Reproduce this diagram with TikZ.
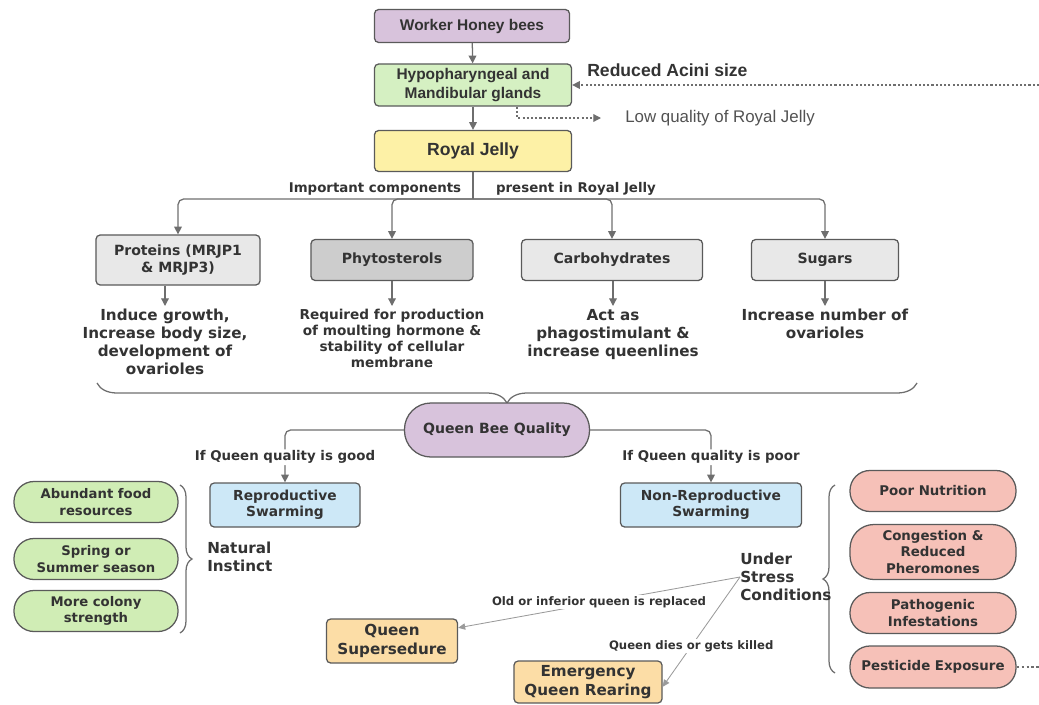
\documentclass[tikz,border=0pt]{standalone}
\usepackage{fontspec}
\setmainfont{DejaVu Sans}
\newfontfamily\arialfont{Liberation Sans}
\usepackage{tikz}
\usetikzlibrary{arrows.meta,decorations.pathreplacing}
\definecolor{boxline}{HTML}{5A5A5A}
\definecolor{linegray}{HTML}{6E6E6E}
\definecolor{thingray}{HTML}{9A9A9A}
\definecolor{txt}{HTML}{333333}
\definecolor{purplefill}{HTML}{D8C3DC}
\definecolor{glandfill}{HTML}{D5F0C2}
\definecolor{jellyfill}{HTML}{FDF1A6}
\definecolor{compfill}{HTML}{E8E8E8}
\definecolor{sterolfill}{HTML}{CDCDCD}
\definecolor{swarmfill}{HTML}{CDE8F7}
\definecolor{naturefill}{HTML}{D0EDB5}
\definecolor{stressfill}{HTML}{F6C1B8}
\definecolor{queenfill}{HTML}{FCDDA6}

\begin{document}
\begin{tikzpicture}[x=0.025cm,y=-0.025cm,
	box/.style={draw=boxline,line width=0.9pt,rounded corners=3pt,align=center,text=txt,inner sep=2pt,font=\bfseries\fontsize{10}{12}\selectfont},
	topbox/.style={box,font=\arialfont\bfseries\fontsize{11}{13}\selectfont},
	pill/.style={box,rounded corners=#1},
	pill/.default=0.5cm,
	link/.style={draw=linegray,line width=0.9pt,-{Triangle[length=5.5pt,width=5.5pt]}},
	thinlink/.style={draw=thingray,line width=0.6pt,-{Triangle[length=5pt,width=4.5pt]}},
	lbl/.style={text=txt,fill=white,inner sep=1pt,font=\bfseries\fontsize{9.5}{11}\selectfont},
	smalllbl/.style={text=txt,fill=white,inner sep=1pt,font=\bfseries\fontsize{8.3}{10}\selectfont},
	desc/.style={text=txt,align=center,anchor=north,inner sep=2pt,font=\bfseries\fontsize{10.8}{12.8}\selectfont},
	side/.style={text=txt,align=left,anchor=west,inner sep=0pt,font=\bfseries\fontsize{10.8}{13}\selectfont},
	bracket/.style={draw=linegray,line width=0.9pt,decorate,decoration={brace,amplitude=#1}}]
	\useasboundingbox (0,0) rectangle (1039,704);

	\node[topbox,fill=purplefill,minimum width=4.875cm,minimum height=0.825cm] (whb) at (472,26) {Worker Honey bees};
	\node[topbox,fill=glandfill,minimum width=4.925cm,minimum height=1.05cm] (hypo) at (473,85) {Hypopharyngeal and\\Mandibular glands};
	\node[topbox,fill=jellyfill,minimum width=4.925cm,minimum height=1.025cm,font=\arialfont\bfseries\fontsize{12.5}{14}\selectfont] (rj) at (473,151) {Royal Jelly};
	\node[anchor=west,text=txt,inner sep=0pt,font=\arialfont\bfseries\fontsize{12.5}{14}\selectfont] (acinitxt) at (587,70) {Reduced Acini size};
	\node[anchor=west,text=txt!85,inner sep=0pt,font=\arialfont\fontsize{12}{14}\selectfont] (lowq) at (625,118) {Low quality of Royal Jelly};
	\coordinate (acini) at (1039,85);

	\draw[link] (whb) -- (hypo);
	\draw[link] (hypo) -- (rj);
	\draw[link,dash pattern=on 1.5pt off 1.5pt] (acini) -- (hypo.east);
	\draw[link,dash pattern=on 1.5pt off 1.5pt] ([xshift=1.1cm]hypo.south) |- ([xshift=-0.6cm]lowq.west);

	\node[box,fill=compfill,minimum width=4.1cm,minimum height=1.25cm] (prot) at (178,260) {Proteins (MRJP1\\\& MRJP3)};
	\node[box,fill=sterolfill,minimum width=4.05cm,minimum height=1.025cm] (phyto) at (392,260) {Phytosterols};
	\node[box,fill=compfill,minimum width=4.525cm,minimum height=1.025cm] (carb) at (612,260) {Carbohydrates};
	\node[box,fill=compfill,minimum width=3.675cm,minimum height=1.025cm] (sug) at (825,260) {Sugars};
	\node[lbl,fill=none] (impc) at (375,189) {Important components};
	\node[lbl,fill=none] (pres) at (576,189) {present in Royal Jelly};

	\coordinate (split) at (473,199);
	\draw[draw=linegray,line width=0.9pt] (rj) -- (split);
	\foreach \n in {prot,phyto,carb,sug}
		\draw[link,rounded corners=4pt] (split) -| (\n);

	\node[desc] (protd) at (165,306) {Induce growth,\\Increase body size,\\development of\\ovarioles};
	\node[desc,font=\bfseries\fontsize{9.7}{11.3}\selectfont] (phytod) at (392,306) {Required for production\\of moulting hormone \&\\stability of cellular\\membrane};
	\node[desc] (carbd) at (613,306) {Act as\\phagostimulant \&\\increase queenlines};
	\node[desc] (sugd) at (825,306) {Increase number of\\ovarioles};
	\foreach \n in {prot,phyto,carb,sug}
		\draw[link] (\n.south -| \n d.north) -- (\n d.north);

	\draw[bracket=0.5cm,decoration={mirror}] (97,383) -- (917,383);

	\node[pill=0.66cm,fill=purplefill,minimum width=4.625cm,minimum height=1.35cm] (qbq) at (497,430) {Queen Bee Quality};
	\node[box,fill=swarmfill,minimum width=3.75cm,minimum height=1.1cm,font=\bfseries\fontsize{9.8}{11.5}\selectfont] (rs) at (285,505) {Reproductive\\Swarming};
	\node[box,fill=swarmfill,minimum width=4.525cm,minimum height=1.1cm,font=\bfseries\fontsize{9.8}{11.5}\selectfont] (nrs) at (711,505) {Non-Reproductive\\Swarming};
	\draw[link,rounded corners=4pt] (qbq.west) -| (rs.north) node[lbl,pos=0.76] {If Queen quality is good};
	\draw[link,rounded corners=4pt] (qbq.east) -| (nrs.north) node[lbl,pos=0.76] {If Queen quality is poor};

	\node[pill,fill=naturefill,minimum width=4.1cm,minimum height=1.025cm,font=\bfseries\fontsize{9.4}{11.5}\selectfont] (food) at (96,502) {Abundant food\\resources};
	\node[pill,fill=naturefill,minimum width=4.1cm,minimum height=1.025cm,font=\bfseries\fontsize{9.4}{11.5}\selectfont] (season) at (96,559) {Spring or\\Summer season};
	\node[pill,fill=naturefill,minimum width=4.1cm,minimum height=1.025cm,font=\bfseries\fontsize{9.4}{11.5}\selectfont] (colony) at (96,611) {More colony\\strength};
	\draw[bracket=0.3cm] (180,485) -- (180,633);
	\node[side] (natural) at (207,557) {Natural\\Instinct};

	\node[pill,fill=stressfill,minimum width=4.15cm,minimum height=1.025cm,font=\bfseries\fontsize{9.5}{11.5}\selectfont] (nutr) at (933,491) {Poor Nutrition};
	\node[pill=0.6cm,fill=stressfill,minimum width=4.15cm,minimum height=1.375cm,font=\bfseries\fontsize{9.5}{11.5}\selectfont] (cong) at (933,552) {Congestion \&\\Reduced\\Pheromones};
	\node[pill,fill=stressfill,minimum width=4.15cm,minimum height=1.025cm,font=\bfseries\fontsize{9.5}{11.5}\selectfont] (patho) at (933,613) {Pathogenic\\Infestations};
	\node[pill,fill=stressfill,minimum width=4.15cm,minimum height=1.05cm,font=\bfseries\fontsize{9.5}{11.5}\selectfont] (pest) at (933,667) {Pesticide Exposure};
	\coordinate (pestend) at (1039,667);
	\draw[draw=linegray,line width=0.9pt,dash pattern=on 2pt off 1.5pt] (pest.east) -- (pestend);
	\draw[bracket=0.3cm] (835,673) -- (835,485);
	\node[side] (usc) at (740,577) {Under\\Stress\\Conditions};

	\node[box,fill=queenfill,minimum width=3.275cm,minimum height=1.1cm,font=\bfseries\fontsize{10.8}{13}\selectfont] (qs) at (392,641) {Queen\\Supersedure};
	\node[box,fill=queenfill,minimum width=3.7cm,minimum height=1.05cm,font=\bfseries\fontsize{10.8}{13}\selectfont] (eqr) at (588,682) {Emergency\\Queen Rearing};
	\draw[thinlink] (usc.west) -- node[smalllbl,pos=0.5] {Old or inferior queen is replaced} ([yshift=0.33cm]qs.east);
	\draw[thinlink] (usc.west) -- node[smalllbl,pos=0.63] {Queen dies or gets killed} ([yshift=-0.12cm]eqr.east);
\end{tikzpicture}
\end{document}
